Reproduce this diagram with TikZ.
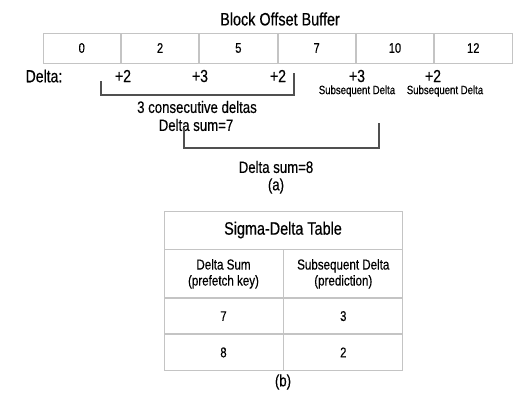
\documentclass[tikz,border=0pt]{standalone}
\usepackage{fontspec}
\setmainfont{Liberation Sans}[FakeStretch=0.8, FakeBold=0.4]
\usetikzlibrary{positioning}
\definecolor{gridgray}{HTML}{C4C4C4}
\definecolor{brackgray}{HTML}{505050}
\tikzstyle{bufcell} = [rectangle,
minimum width=77.5pt,
minimum height=30pt,
inner sep=0pt,
text centered,
draw=gridgray, line width=0.8pt,
font=\fontsize{14}{16}\selectfont]
\tikzstyle{tcell} = [rectangle,
minimum width=119pt,
inner sep=0pt,
text centered,
align=center,
draw=gridgray, line width=0.8pt,
font=\fontsize{14}{16}\selectfont]
\tikzstyle{delta} = [inner sep=0pt, font=\fontsize{17.5}{19}\selectfont]
\tikzstyle{small} = [inner sep=0pt, font=\fontsize{12}{13}\selectfont]
\tikzstyle{label} = [inner sep=0pt, font=\fontsize{16.5}{18}\selectfont]
\tikzstyle{bracket} = [line width=2.6pt, draw=brackgray]

\begin{document}
\begin{tikzpicture}[x=1pt, y=-1pt]
            \useasboundingbox (0,0) rectangle (526,400);
            % buffer
            \node (title) [inner sep=0pt, font=\fontsize{18}{20}\selectfont] at (280,19) {Block Offset Buffer};
            \node (c0) [bufcell] at (81.75,48) {0};
            \node (c1) [bufcell, right=0pt of c0] {2};
            \node (c2) [bufcell, right=0pt of c1] {5};
            \node (c3) [bufcell, right=0pt of c2] {7};
            \node (c4) [bufcell, right=0pt of c3] {10};
            \node (c5) [bufcell, right=0pt of c4] {12};

            % deltas
            \node (dl) [delta] at (44,76) {Delta:};
            \node (d1) [delta] at (123,76) {+2};
            \node (d2) [delta] at (200,76) {+3};
            \node (d3) [delta] at (278,76) {+2};
            \node (d4) [delta] at (357,76) {+3};
            \node (d5) [delta] at (433,76) {+2};
            \node (s4) [small] at (357,91) {Subsequent Delta};
            \node (s5) [small] at (445,91) {Subsequent Delta};

            \draw [bracket] (101,81) -- (101,95) -- (294,95) -- (294,73);
            \node (cons) [label] at (197,107) {3 consecutive deltas};
            \node (sum7) [label] at (196,125) {Delta sum=7};
            \draw [bracket] (184,128) -- (184,148) -- (379,148) -- (379,123);
            \node (sum8) [label] at (276,167) {Delta sum=8};
            \node (capa) [label] at (276,186) {(a)};

            % table
            \node (tab) [tcell, minimum width=238pt, minimum height=38pt, font=\fontsize{18}{20}\selectfont] at (283,230) {Sigma-Delta Table};
            \node (h1) [tcell, minimum height=48pt, below right=0pt and 0pt of tab.south west, font=\fontsize{14.5}{16}\selectfont] {Delta Sum\\(prefetch key)};
            \node (h2) [tcell, minimum height=48pt, right=0pt of h1, font=\fontsize{14.5}{16}\selectfont] {Subsequent Delta\\(prediction)};
            \node (r1a) [tcell, minimum height=35pt, below=0pt of h1] {7};
            \node (r1b) [tcell, minimum height=35pt, below=0pt of h2] {3};
            \node (r2a) [tcell, minimum height=36pt, below=0pt of r1a] {8};
            \node (r2b) [tcell, minimum height=36pt, below=0pt of r1b] {2};
            \node (capb) [label] at (283,382) {(b)};
        \end{tikzpicture}
\end{document}
